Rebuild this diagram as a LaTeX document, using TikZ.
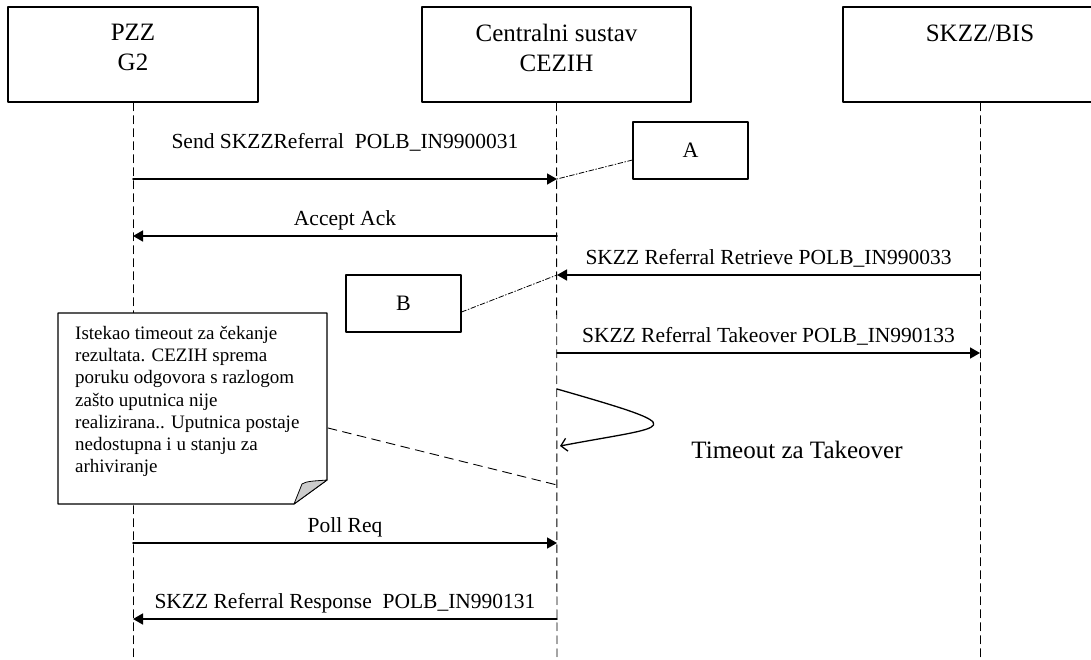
\documentclass[tikz,border=0pt]{standalone}
\usepackage{fontspec}
\setmainfont{Liberation Serif}
\usepackage{pgf,tikz}
\usetikzlibrary{arrows.meta}

\begin{document}
\begin{tikzpicture}[line cap=round,line join=round,>={Triangle[length=10pt,width=11pt]},x=1pt,y=-1pt,
    headbox/.style={draw,line width=1.4pt,minimum height=95pt,inner sep=0pt},
    headtext/.style={anchor=north,align=center,inner sep=0pt,font=\fontsize{25}{30}\selectfont},
    life/.style={line width=0.9pt,dash pattern=on 8pt off 5pt},
    msg/.style={line width=1.6pt,->},
    msglabel/.style={midway,anchor=base,yshift=11pt,inner sep=0pt,font=\fontsize{21.5}{26}\selectfont},
    refbox/.style={draw,line width=1.1pt,minimum width=115pt,minimum height=57pt,font=\fontsize{22}{26}\selectfont},
    reflink/.style={line width=0.8pt,dash pattern=on 5pt off 2pt on 1pt off 2pt}]
            \useasboundingbox (0,0) rectangle (1091,659);
            \clip (0,0) rectangle (1091,659);
            % sudionici
            \node[headbox,minimum width=250pt] (pzz) at (133,54.5) {};
            \node[headbox,minimum width=269pt] (cezih) at (556.5,54.5) {};
            \node[headbox,minimum width=274pt] (skzz) at (980,54.5) {};
            \node[headtext] (pzzt) at ([yshift=-18pt]pzz.north) {PZZ\\G2};
            \node[headtext] (ceziht) at ([yshift=-18pt]cezih.north) {Centralni sustav\\CEZIH};
            \node[headtext] (skzzt) at ([yshift=-18pt]skzz.north) {SKZZ/BIS};
            % zivotne linije
            \coordinate (pzzend) at (133,659);
            \coordinate (cezihend) at (557,659);
            \coordinate (skzzend) at (980,659);
            \draw [life] (pzz.south) -- (pzzend);
            \draw [life] (cezih.south) -- (cezihend);
            \draw [life] (skzz.south) -- (skzzend);
            % tocke poruka
            \coordinate (p1) at (133,179);
            \coordinate (c1) at (557,179);
            \coordinate (p2) at (133,236);
            \coordinate (c2) at (557,236);
            \coordinate (c3) at (557,275);
            \coordinate (s3) at (980,275);
            \coordinate (c4) at (557,353);
            \coordinate (s4) at (980,353);
            \coordinate (c5) at (557,389);
            \coordinate (c6) at (560,446);
            \coordinate (p7) at (133,543);
            \coordinate (c7) at (557,543);
            \coordinate (p8) at (133,619);
            \coordinate (c8) at (557,619);
            % poruke
            \draw [msg] (p1) -- (c1) node[msglabel,yshift=20pt] {Send SKZZReferral\ \ POLB\_IN9900031};
            \draw [msg] (c2) -- (p2) node[msglabel] {Accept Ack};
            \draw [msg] (s3) -- (c3) node[msglabel] {SKZZ Referral Retrieve POLB\_IN990033};
            \draw [msg] (c4) -- (s4) node[msglabel] {SKZZ Referral Takeover POLB\_IN990133};
            \draw [line width=1.3pt,-{Straight Barb[length=6pt,width=13pt]}] (c5) .. controls (700,430) and (670,425) .. (c6);
            \node[font=\fontsize{25}{30}\selectfont] (tout) at (797,450) {Timeout za Takeover};
            \draw [msg] (p7) -- (c7) node[msglabel] {Poll Req};
            \draw [msg] (c8) -- (p8) node[msglabel] {SKZZ Referral Response\ \ POLB\_IN990131};
            % oznake A i B
            \node[refbox] (boxa) at (690.5,150.5) {A};
            \node[refbox] (boxb) at (403.5,303.5) {B};
            \draw [reflink] (boxa.west |- 0,160) -- (c1);
            \draw [reflink] (boxb.east |- 0,312) -- (c3);
            % biljeska
            \draw [line width=1.1pt,fill=white] (58,313) -- (327,313) -- (327,480) -- (294,504) -- (58,504) -- cycle;
            \draw [line width=0.8pt,fill=black!20] (327,480) .. controls (315,481) and (306,481) .. (302,484) -- (294,504) -- cycle;
            \coordinate (notend) at (328,428);
            \node[anchor=north west,align=left,inner sep=0pt,font=\fontsize{19}{22.2}\selectfont] (note) at (75,326) {Istekao timeout za čekanje\\rezultata. CEZIH sprema\\poruku odgovora s razlogom\\zašto uputnica nije\\realizirana.. Uputnica postaje\\nedostupna i u stanju za\\arhiviranje};
            \draw [line width=0.9pt,dash pattern=on 9pt off 6pt] (notend) -- (557,485);
            \end{tikzpicture}
\end{document}
